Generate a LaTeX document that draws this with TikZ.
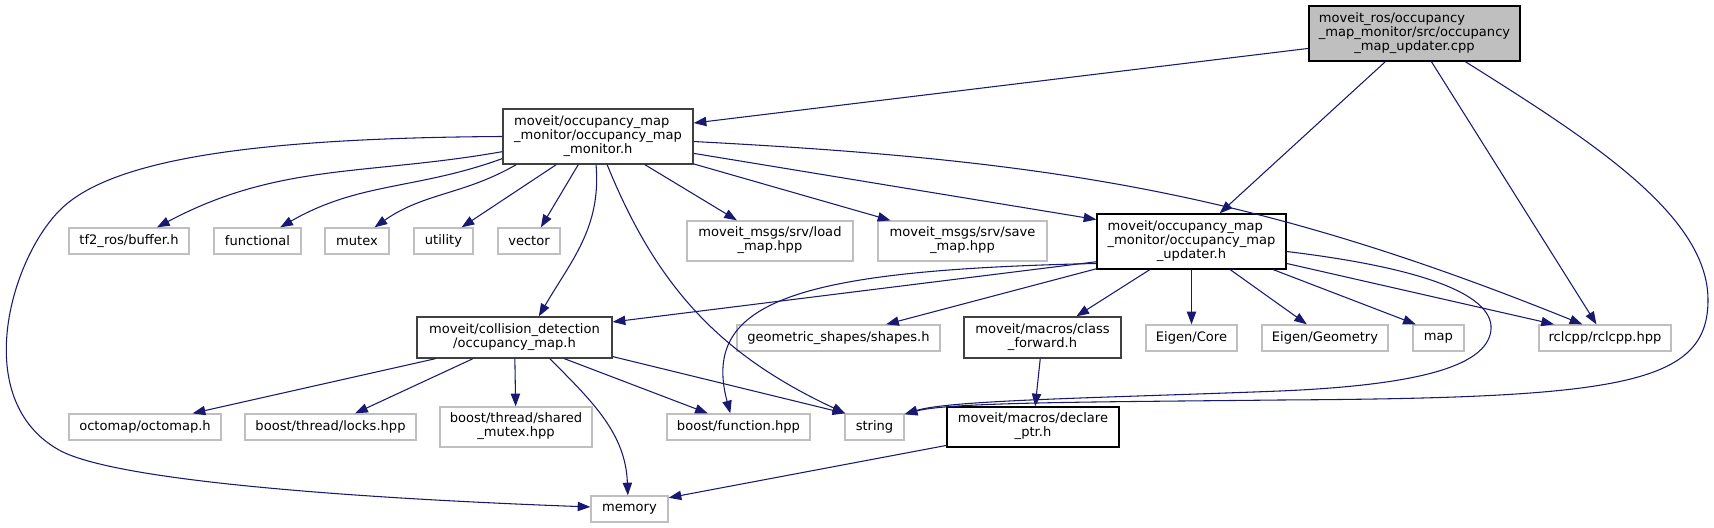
\documentclass[tikz,border=0pt]{standalone}
\usepackage{fontspec}
\setmainfont{DejaVu Sans}
\usepackage{tikz}
\usetikzlibrary{arrows.meta}

\definecolor{edgeblue}{HTML}{191970}
\definecolor{docgray}{HTML}{404040}
\definecolor{extgray}{HTML}{BFBFBF}
\newdimen\pxu \pxu=0.75pt
% first lines left, last line centred
\newcommand\dlab[2]{\begin{tabular}{@{}l@{}}#1\\\multicolumn{1}{@{}c@{}}{#2}\end{tabular}}

\begin{document}
\begin{tikzpicture}[x=0.75pt, y=-0.75pt, font=\fontsize{9.8pt}{10.7pt}\selectfont,
    box/.style={rectangle, inner sep=1pt, minimum height=26\pxu, line width=1pt, fill=white},
    ext/.style={box, draw=extgray},
    doc/.style={box, draw=docgray},
    docb/.style={box, draw=black},
    two/.style={minimum height=40\pxu},
    three/.style={minimum height=55\pxu},
    dep/.style={draw=edgeblue, line width=0.8pt, -{Triangle[length=9.5pt, width=7pt]}}]
  \useasboundingbox (0,0) rectangle (1714,528);

  % top
  \node[docb, three, fill=extgray, minimum width=211\pxu] (cpp) at (1414.5,33.5)
    {\dlab{moveit\_ros/occupancy\\\_map\_monitor/src/occupancy}{\_map\_updater.cpp}};
  \node[doc, three, minimum width=190\pxu] (mon) at (598,136.5)
    {\dlab{moveit/occupancy\_map\\\_monitor/occupancy\_map}{\_monitor.h}};
  \node[docb, three, minimum width=189\pxu] (upd) at (1191.5,241.5)
    {\dlab{moveit/occupancy\_map\\\_monitor/occupancy\_map}{\_updater.h}};

  % row 2
  \node[ext, minimum width=120\pxu] (tf) at (129,241) {tf2\_ros/buffer.h};
  \node[ext, minimum width=87\pxu] (func) at (257.5,241) {functional};
  \node[ext, minimum width=64\pxu] (mutex) at (357,241) {mutex};
  \node[ext, minimum width=59\pxu] (util) at (443.5,241) {utility};
  \node[ext, minimum width=62\pxu] (vec) at (529,241) {vector};
  \node[ext, two, minimum width=166\pxu] (load) at (770,241) {\dlab{moveit\_msgs/srv/load}{\_map.hpp}};
  \node[ext, two, minimum width=169\pxu] (save) at (962.5,241) {\dlab{moveit\_msgs/srv/save}{\_map.hpp}};

  % row 3
  \node[doc, minimum height=41\pxu, minimum width=195\pxu] (occ) at (514.5,337.5)
    {\dlab{moveit/collision\_detection}{/occupancy\_map.h}};
  \node[ext, minimum width=203\pxu] (geo) at (838.5,338) {geometric\_shapes/shapes.h};
  \node[doc, minimum height=41\pxu, minimum width=157\pxu] (cls) at (1042.5,337.5)
    {\dlab{moveit/macros/class}{\_forward.h}};
  \node[ext, minimum width=91\pxu] (core) at (1191.5,338) {Eigen/Core};
  \node[ext, minimum width=126\pxu] (geom) at (1325,338) {Eigen/Geometry};
  \node[ext, minimum width=51\pxu] (map) at (1438.5,338) {map};
  \node[ext, minimum width=132\pxu] (rcl) at (1605,338) {rclcpp/rclcpp.hpp};

  % row 4
  \node[ext, minimum width=152\pxu] (octo) at (145,427) {octomap/octomap.h};
  \node[ext, minimum width=171\pxu] (locks) at (330.5,427) {boost/thread/locks.hpp};
  \node[ext, two, minimum width=152\pxu] (shmx) at (516,427) {\dlab{boost/thread/shared}{\_mutex.hpp}};
  \node[ext, minimum width=143\pxu] (fun) at (738.5,427) {boost/function.hpp};
  \node[ext, minimum width=59\pxu] (str) at (874.5,427) {string};
  \node[docb, two, minimum width=172\pxu] (decl) at (1033,427) {\dlab{moveit/macros/declare}{\_ptr.h}};
  \node[ext, minimum width=77\pxu] (mem) at (629.5,509) {memory};

  % cpp
  \draw[dep] (cpp.188) -- (mon.8);
  \draw[dep] (cpp.224) -- (upd.45);
  \draw[dep] (cpp.301) -- (rcl.122);
  \draw[dep] (cpp.331) .. controls (1590,140) and (1708,215) .. (1708,300)
    .. controls (1708,385) and (1620,398) .. (1280,400)
    .. controls (1100,402) and (950,402) .. (str.23);

  % occupancy_map_monitor.h
  \draw[dep] (mon.180) .. controls (250,138) and (110,160) .. (60,210)
    .. controls (10,260) and (-30,400) .. (59,450)
    .. controls (120,484) and (400,500) .. (mem.177);
  \draw[dep] (mon.189) to[out=190,in=28] (tf.26);
  \draw[dep] (mon.193) to[out=200,in=30] (func.31);
  \draw[dep] (mon.199) to[out=210,in=35] (mutex.38);
  \draw[dep] (mon.214) -- (util.37);
  \draw[dep] (mon.235) -- (vec.49);
  \draw[dep] (mon.266) to[out=-85,in=60] (occ.41);
  \draw[dep] (mon.288) to[out=-68,in=155] (str.155);
  \draw[dep] (mon.329) -- (load.148);
  \draw[dep] (mon.344) -- (save.164);
  \draw[dep] (mon.350) -- (upd.167);
  \draw[dep] (mon.357) to[out=-3,in=158] (rcl.149);

  % occupancy_map_updater.h
  \draw[dep] (upd.192) -- (occ.9);
  \draw[dep] (upd.193) .. controls (800,270) and (700,300) .. (fun.121);
  \draw[dep] (upd.196) -- (geo.16);
  \draw[dep] (upd.214) -- (cls.32);
  \draw[dep] (upd) -- (core);
  \draw[dep] (upd.324) -- (geom.143);
  \draw[dep] (upd.341) -- (map.149);
  \draw[dep] (upd.347) -- (rcl.165);
  \draw[dep] (upd.354) .. controls (1440,270) and (1500,300) .. (1490,335)
    .. controls (1481,366) and (1420,385) .. (1280,391)
    .. controls (1100,398) and (950,400) .. (str.23);

  % occupancy_map.h
  \draw[dep] (occ.195) -- (octo.16);
  \draw[dep] (occ.207) -- (locks.29);
  \draw[dep] (occ) -- (shmx);
  \draw[dep] (occ.329) to[out=-45,in=92] (mem.97);
  \draw[dep] (occ.337) -- (fun.156);
  \draw[dep] (occ.349) -- (str.155);

  % macros
  \draw[dep] (cls) -- (decl);
  \draw[dep] (decl.192) -- (mem.16);
\end{tikzpicture}
\end{document}
